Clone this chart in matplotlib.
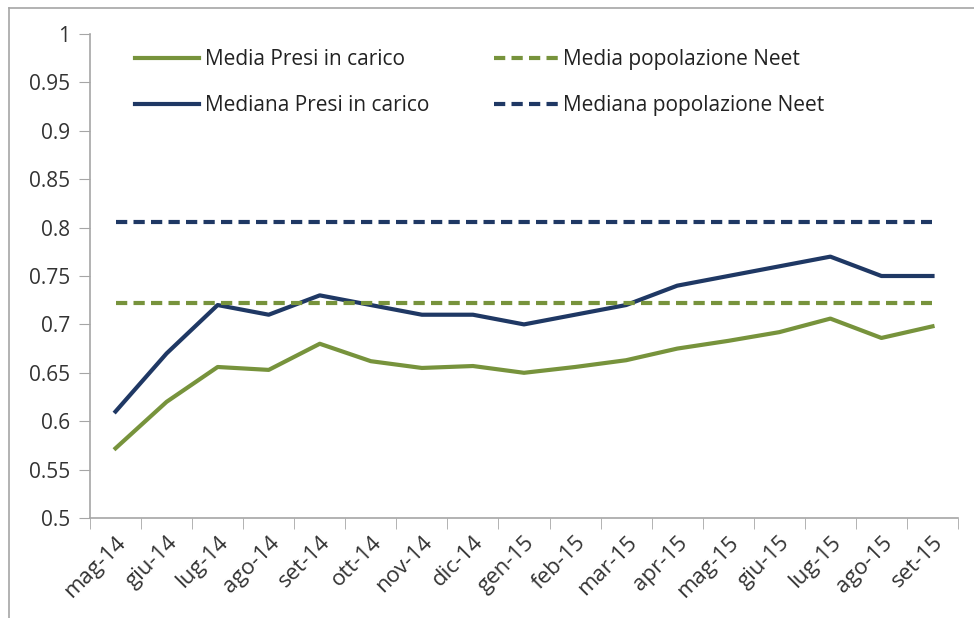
import matplotlib.pyplot as plt
from matplotlib.lines import Line2D

# dati
mesi = ["mag-14", "giu-14", "lug-14", "ago-14", "set-14", "ott-14", "nov-14",
        "dic-14", "gen-15", "feb-15", "mar-15", "apr-15", "mag-15", "giu-15",
        "lug-15", "ago-15", "set-15"]
media_presi = [0.572, 0.620, 0.656, 0.653, 0.680, 0.662, 0.655, 0.657, 0.650,
               0.656, 0.663, 0.675, 0.683, 0.692, 0.706, 0.686, 0.698]
mediana_presi = [0.61, 0.67, 0.72, 0.71, 0.73, 0.72, 0.71, 0.71, 0.70,
                 0.71, 0.72, 0.74, 0.75, 0.76, 0.77, 0.75, 0.75]
media_neet = 0.722
mediana_neet = 0.806

verde = "#77933C"
blu = "#1F3864"
grigio = "#A6A6A6"

plt.rcParams['font.family'] = ['Open Sans', 'DejaVu Sans']

fig = plt.figure(figsize=(9.74, 6.18), dpi=100)
ax = fig.add_axes([0.0924, 0.1618, 0.8912, 0.7832])

x = list(range(len(mesi)))
ax.plot(x, media_presi, color=verde, lw=3, label="Media Presi in carico")
ax.plot(x, mediana_presi, color=blu, lw=3, label="Mediana Presi in carico")
ax.plot(x, [media_neet] * len(x), color=verde, lw=3, dashes=(2.7, 1.5),
        label="Media popolazione Neet")
ax.plot(x, [mediana_neet] * len(x), color=blu, lw=3, dashes=(2.7, 1.5),
        label="Mediana popolazione Neet")

ax.set_xlim(-0.5, len(mesi) - 0.5)
ax.set_ylim(0.5, 1.0)
ax.set_yticks([0.5 + 0.05 * i for i in range(11)])
ax.set_yticklabels(["0.5", "0.55", "0.6", "0.65", "0.7", "0.75", "0.8",
                    "0.85", "0.9", "0.95", "1"])
ax.set_xticks(x)
ax.set_xticklabels(mesi, rotation=45, ha="right", rotation_mode="anchor")
ax.set_xticks([i - 0.5 for i in range(len(mesi) + 1)], minor=True)
ax.tick_params(axis="x", which="major", length=0, pad=10, labelsize=16)
ax.tick_params(axis="x", which="minor", length=8, color=grigio, direction="out")
ax.tick_params(axis="y", length=8, color=grigio, direction="out", pad=6,
               labelsize=15)
ax.tick_params(labelcolor="#333333")

for s in ["top", "right"]:
    ax.spines[s].set_visible(False)
for s in ["left", "bottom"]:
    ax.spines[s].set_color(grigio)
    ax.spines[s].set_linewidth(1.2)

ax.legend(ncol=2, frameon=False, loc="upper left", bbox_to_anchor=(0.03, 1.008),
          fontsize=15, handlelength=3.1, handletextpad=0.25, columnspacing=3.1,
          labelspacing=1.2, labelcolor="#222222")

# cornice esterna
fig.add_artist(Line2D([0.009, 0.009], [0.0, 0.987], color=grigio, lw=1.2,
                      transform=fig.transFigure))
fig.add_artist(Line2D([0.009, 1.0], [0.987, 0.987], color=grigio, lw=1.2,
                      transform=fig.transFigure))

fig.savefig("out.png", dpi=100)
